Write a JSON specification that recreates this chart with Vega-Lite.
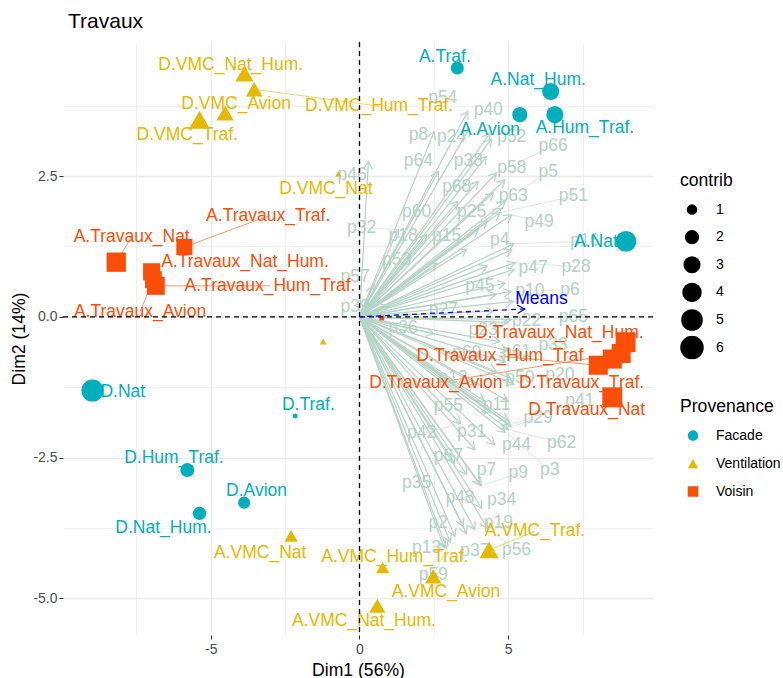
{
  "$schema": "https://vega.github.io/schema/vega-lite/v6.json",
  "width": 590,
  "height": 593,
  "autosize": {"type": "none"},
  "padding": {"left": 63, "top": 42, "right": 130, "bottom": 43},
  "background": "white",
  "title": {"text": "Travaux", "anchor": "start", "frame": "group", "fontSize": 21, "font": "Liberation Sans", "fontWeight": "normal", "color": "black", "offset": 9, "dx": 5},
  "config": {
    "view": {"stroke": null},
    "axis": {"labelFont": "Liberation Sans", "labelFontSize": 14, "labelColor": "#4D4D4D", "titleFont": "Liberation Sans", "titleFontSize": 17.6, "titleFontWeight": "normal", "titleColor": "black", "domain": false, "gridColor": "#EBEBEB", "tickColor": "#333333", "tickSize": 4, "tickWidth": 1},
    "legend": {"titleFont": "Liberation Sans", "titleFontSize": 17.6, "titleFontWeight": "normal", "titleColor": "black", "labelFont": "Liberation Sans", "labelFontSize": 14, "labelColor": "black", "padding": 0}
  },
  "resolve": {"legend": {"color": "independent", "shape": "independent", "size": "independent"}},
  "datasets": {
    "ind": [
      {"name": "A.Traf.", "grp": "Facade", "x": 3.29, "y": 4.42, "contrib": 2.1, "lx": 2.87, "ly": 4.62, "seg": false},
      {"name": "A.Nat_Hum.", "grp": "Facade", "x": 6.43, "y": 4.0, "contrib": 3.6, "lx": 6.01, "ly": 4.21, "seg": false},
      {"name": "A.Avion", "grp": "Facade", "x": 5.39, "y": 3.59, "contrib": 2.8, "lx": 4.39, "ly": 3.32, "seg": false},
      {"name": "A.Hum_Traf.", "grp": "Facade", "x": 6.57, "y": 3.59, "contrib": 3.6, "lx": 7.58, "ly": 3.35, "seg": false},
      {"name": "A.Nat", "grp": "Facade", "x": 8.96, "y": 1.34, "contrib": 5.4, "lx": 7.95, "ly": 1.32, "seg": false},
      {"name": "D.Nat", "grp": "Facade", "x": -8.98, "y": -1.31, "contrib": 6.0, "lx": -7.96, "ly": -1.33, "seg": false},
      {"name": "D.Traf.", "grp": "Facade", "x": -2.16, "y": -1.76, "contrib": 0.3, "lx": -1.72, "ly": -1.56, "seg": false},
      {"name": "D.Hum_Traf.", "grp": "Facade", "x": -5.79, "y": -2.72, "contrib": 2.4, "lx": -6.24, "ly": -2.51, "seg": false},
      {"name": "D.Avion", "grp": "Facade", "x": -3.88, "y": -3.3, "contrib": 1.8, "lx": -3.46, "ly": -3.1, "seg": false},
      {"name": "D.Nat_Hum.", "grp": "Facade", "x": -5.38, "y": -3.49, "contrib": 2.2, "lx": -6.59, "ly": -3.75, "seg": false},
      {"name": "D.VMC_Nat_Hum.", "grp": "Ventilation", "x": -3.87, "y": 4.32, "contrib": 4.1, "lx": -4.33, "ly": 4.48, "seg": false},
      {"name": "D.VMC_Hum_Traf.", "grp": "Ventilation", "x": -3.54, "y": 4.04, "contrib": 3.4, "lx": 0.66, "ly": 3.74, "seg": true},
      {"name": "D.VMC_Avion", "grp": "Ventilation", "x": -4.52, "y": 3.62, "contrib": 3.7, "lx": -4.15, "ly": 3.78, "seg": false},
      {"name": "D.VMC_Traf.", "grp": "Ventilation", "x": -5.38, "y": 3.5, "contrib": 5.3, "lx": -5.79, "ly": 3.23, "seg": false},
      {"name": "D.VMC_Nat", "grp": "Ventilation", "x": -0.71, "y": 2.54, "contrib": 0.45, "lx": -1.13, "ly": 2.27, "seg": false},
      {"name": "", "grp": "Ventilation", "x": -1.22, "y": -0.44, "contrib": 0.6, "lx": null, "ly": null, "seg": false},
      {"name": "A.VMC_Nat", "grp": "Ventilation", "x": -2.3, "y": -3.89, "contrib": 2.2, "lx": -3.34, "ly": -4.2, "seg": false},
      {"name": "A.VMC_Hum_Traf.", "grp": "Ventilation", "x": 0.78, "y": -4.45, "contrib": 2.2, "lx": 1.19, "ly": -4.26, "seg": false},
      {"name": "A.VMC_Nat_Hum.", "grp": "Ventilation", "x": 0.6, "y": -5.13, "contrib": 3.2, "lx": 0.15, "ly": -5.41, "seg": false},
      {"name": "A.VMC_Traf.", "grp": "Ventilation", "x": 4.36, "y": -4.14, "contrib": 4.5, "lx": 5.9, "ly": -3.81, "seg": true},
      {"name": "A.VMC_Avion", "grp": "Ventilation", "x": 2.48, "y": -4.61, "contrib": 3.4, "lx": 2.91, "ly": -4.88, "seg": false},
      {"name": "A.Travaux_Nat", "grp": "Voisin", "x": -8.18, "y": 0.97, "contrib": 4.6, "lx": -7.66, "ly": 1.42, "seg": true},
      {"name": "A.Travaux_Traf.", "grp": "Voisin", "x": -5.89, "y": 1.24, "contrib": 3.2, "lx": -3.07, "ly": 1.79, "seg": true},
      {"name": "A.Travaux_Nat_Hum.", "grp": "Voisin", "x": -6.99, "y": 0.8, "contrib": 3.6, "lx": -3.85, "ly": 0.98, "seg": false},
      {"name": "A.Travaux_Hum_Traf.", "grp": "Voisin", "x": -6.85, "y": 0.55, "contrib": 4.0, "lx": -3.01, "ly": 0.55, "seg": true},
      {"name": "A.Travaux_Avion", "grp": "Voisin", "x": -6.93, "y": 0.66, "contrib": 3.5, "lx": -7.38, "ly": 0.09, "seg": true},
      {"name": "D.Travaux_Nat_Hum.", "grp": "Voisin", "x": 8.95, "y": -0.45, "contrib": 4.9, "lx": 6.72, "ly": -0.28, "seg": false},
      {"name": "D.Travaux_Traf.", "grp": "Voisin", "x": 8.5, "y": -0.75, "contrib": 4.5, "lx": 7.47, "ly": -1.17, "seg": false},
      {"name": "D.Travaux_Hum_Traf", "grp": "Voisin", "x": 8.03, "y": -0.86, "contrib": 4.5, "lx": 4.72, "ly": -0.7, "seg": true},
      {"name": "D.Travaux_Avion", "grp": "Voisin", "x": 8.8, "y": -0.65, "contrib": 4.5, "lx": 2.57, "ly": -1.17, "seg": true},
      {"name": "D.Travaux_Nat", "grp": "Voisin", "x": 8.5, "y": -1.43, "contrib": 4.9, "lx": 7.64, "ly": -1.65, "seg": false},
      {"name": "", "grp": "Voisin", "x": 0.75, "y": -0.02, "contrib": 0.3, "lx": null, "ly": null, "seg": false}
    ],
    "var": [
      {"v": "p46", "x": 0.30, "y": 2.76, "lx": -0.25, "ly": 2.52, "seg": false},
      {"v": "p8", "x": 2.51, "y": 3.29, "lx": 1.98, "ly": 3.23, "seg": false},
      {"v": "p54", "x": 3.64, "y": 3.65, "lx": 2.80, "ly": 3.88, "seg": false},
      {"v": "p24", "x": 3.70, "y": 3.35, "lx": 3.10, "ly": 3.20, "seg": false},
      {"v": "p40", "x": 4.39, "y": 3.26, "lx": 4.33, "ly": 3.68, "seg": false},
      {"v": "p52", "x": 4.44, "y": 3.16, "lx": 5.12, "ly": 3.20, "seg": false},
      {"v": "p66", "x": 4.60, "y": 2.55, "lx": 6.51, "ly": 3.04, "seg": true},
      {"v": "p64", "x": 2.65, "y": 2.58, "lx": 1.98, "ly": 2.76, "seg": false},
      {"v": "p38", "x": 4.27, "y": 2.85, "lx": 3.66, "ly": 2.76, "seg": false},
      {"v": "p58", "x": 4.89, "y": 2.43, "lx": 5.12, "ly": 2.65, "seg": false},
      {"v": "p5", "x": 4.90, "y": 2.05, "lx": 6.35, "ly": 2.58, "seg": true},
      {"v": "p68", "x": 3.99, "y": 2.40, "lx": 3.27, "ly": 2.31, "seg": false},
      {"v": "p63", "x": 4.50, "y": 2.20, "lx": 5.17, "ly": 2.14, "seg": false},
      {"v": "p51", "x": 4.72, "y": 1.85, "lx": 7.19, "ly": 2.14, "seg": true},
      {"v": "p60", "x": 3.30, "y": 2.05, "lx": 1.92, "ly": 1.87, "seg": false},
      {"v": "p25", "x": 4.78, "y": 1.93, "lx": 3.77, "ly": 1.87, "seg": false},
      {"v": "p49", "x": 5.12, "y": 1.81, "lx": 6.04, "ly": 1.69, "seg": true},
      {"v": "p32", "x": 1.30, "y": 1.55, "lx": 0.07, "ly": 1.58, "seg": true},
      {"v": "p18", "x": 2.26, "y": 1.46, "lx": 1.47, "ly": 1.43, "seg": false},
      {"v": "p15", "x": 4.00, "y": 1.55, "lx": 2.93, "ly": 1.43, "seg": false},
      {"v": "p4", "x": 5.12, "y": 1.19, "lx": 4.72, "ly": 1.37, "seg": false},
      {"v": "p16", "x": 5.20, "y": 1.30, "lx": 7.58, "ly": 1.34, "seg": true},
      {"v": "p53", "x": 2.60, "y": 0.95, "lx": 1.25, "ly": 1.01, "seg": false},
      {"v": "p47", "x": 5.20, "y": 0.84, "lx": 5.84, "ly": 0.86, "seg": false},
      {"v": "p28", "x": 5.23, "y": 0.96, "lx": 7.28, "ly": 0.89, "seg": true},
      {"v": "p57", "x": 0.45, "y": 0.55, "lx": -0.15, "ly": 0.70, "seg": false},
      {"v": "p45", "x": 4.90, "y": 0.60, "lx": 4.05, "ly": 0.54, "seg": false},
      {"v": "p10", "x": 5.17, "y": 0.27, "lx": 5.73, "ly": 0.45, "seg": false},
      {"v": "p6", "x": 5.10, "y": 0.45, "lx": 7.08, "ly": 0.48, "seg": true},
      {"v": "p39", "x": 1.00, "y": 0.20, "lx": -0.15, "ly": 0.18, "seg": false},
      {"v": "p27", "x": 4.50, "y": 0.10, "lx": 2.82, "ly": 0.12, "seg": false},
      {"v": "p22", "x": 5.00, "y": -0.10, "lx": 5.62, "ly": -0.08, "seg": false},
      {"v": "p65", "x": 5.10, "y": -0.05, "lx": 7.19, "ly": 0.00, "seg": true},
      {"v": "p36", "x": 2.50, "y": -0.30, "lx": 1.47, "ly": -0.20, "seg": false},
      {"v": "p23", "x": 4.72, "y": -0.44, "lx": 4.16, "ly": -0.23, "seg": false},
      {"v": "p33", "x": 5.00, "y": -0.60, "lx": 6.51, "ly": -0.50, "seg": true},
      {"v": "p69", "x": 4.61, "y": -0.97, "lx": 3.60, "ly": -0.65, "seg": false},
      {"v": "p61", "x": 4.90, "y": -0.80, "lx": 5.28, "ly": -0.62, "seg": false},
      {"v": "p12", "x": 5.00, "y": -1.50, "lx": 3.15, "ly": -1.09, "seg": false},
      {"v": "p50", "x": 5.20, "y": -1.20, "lx": 5.39, "ly": -1.09, "seg": false},
      {"v": "p20", "x": 5.10, "y": -1.10, "lx": 6.74, "ly": -1.03, "seg": true},
      {"v": "p41", "x": 5.06, "y": -1.92, "lx": 7.41, "ly": -1.50, "seg": true},
      {"v": "p55", "x": 4.20, "y": -1.50, "lx": 2.99, "ly": -1.59, "seg": false},
      {"v": "p11", "x": 5.00, "y": -1.85, "lx": 4.61, "ly": -1.56, "seg": false},
      {"v": "p29", "x": 5.10, "y": -1.95, "lx": 6.01, "ly": -1.80, "seg": true},
      {"v": "p44", "x": 4.55, "y": -2.27, "lx": 5.28, "ly": -2.27, "seg": false},
      {"v": "p62", "x": 5.00, "y": -2.00, "lx": 6.80, "ly": -2.24, "seg": true},
      {"v": "p42", "x": 3.40, "y": -1.90, "lx": 2.09, "ly": -2.07, "seg": true},
      {"v": "p31", "x": 3.88, "y": -2.36, "lx": 3.77, "ly": -2.04, "seg": false},
      {"v": "p3", "x": 4.90, "y": -2.05, "lx": 6.40, "ly": -2.72, "seg": true},
      {"v": "p67", "x": 3.60, "y": -2.80, "lx": 2.99, "ly": -2.48, "seg": false},
      {"v": "p7", "x": 4.05, "y": -2.98, "lx": 4.27, "ly": -2.72, "seg": false},
      {"v": "p9", "x": 4.10, "y": -3.00, "lx": 5.34, "ly": -2.78, "seg": true},
      {"v": "p35", "x": 2.85, "y": -4.10, "lx": 1.92, "ly": -2.95, "seg": false},
      {"v": "p34", "x": 4.11, "y": -3.40, "lx": 4.78, "ly": -3.25, "seg": false},
      {"v": "p48", "x": 3.49, "y": -3.72, "lx": 3.38, "ly": -3.22, "seg": false},
      {"v": "p2", "x": 3.21, "y": -3.90, "lx": 2.65, "ly": -3.66, "seg": false},
      {"v": "p19", "x": 3.88, "y": -3.78, "lx": 4.67, "ly": -3.66, "seg": false},
      {"v": "p13", "x": 2.93, "y": -4.11, "lx": 2.26, "ly": -4.11, "seg": false},
      {"v": "p37", "x": 3.60, "y": -3.85, "lx": 3.88, "ly": -4.15, "seg": false},
      {"v": "p56", "x": 4.30, "y": -3.75, "lx": 5.28, "ly": -4.14, "seg": true},
      {"v": "p59", "x": 3.05, "y": -4.00, "lx": 2.48, "ly": -4.58, "seg": true},
      {"v": "p1", "x": 3.60, "y": 1.20, "lx": null, "ly": null, "seg": false},
      {"v": "p14", "x": 4.30, "y": 0.90, "lx": null, "ly": null, "seg": false},
      {"v": "p17", "x": 4.60, "y": 0.40, "lx": null, "ly": null, "seg": false},
      {"v": "p21", "x": 3.90, "y": -1.20, "lx": null, "ly": null, "seg": false},
      {"v": "p26", "x": 4.30, "y": 1.70, "lx": null, "ly": null, "seg": false},
      {"v": "p43", "x": 4.40, "y": -1.70, "lx": null, "ly": null, "seg": false},
      {"v": "p30", "x": 3.20, "y": -2.60, "lx": null, "ly": null, "seg": false}
    ],
    "means": [
      {"v": "Means", "x": 5.56, "y": 0.14, "lx": 6.12, "ly": 0.31}
    ]
  },
  "layer": [
    {
      "data": {"name": "ind"},
      "transform": [{"filter": "datum.seg"}],
      "mark": {"type": "rule", "strokeWidth": 0.6},
      "encoding": {
        "x": {"field": "lx", "type": "quantitative", "scale": {"domain": [-9.97, 9.87], "nice": false, "zero": false},
          "axis": {"title": "Dim1 (56%)", "values": [-7.5, -5, -2.5, 0, 2.5, 5, 7.5],
            "labelExpr": "datum.value % 5 == 0 ? (datum.value < 0 ? '-' + format(-datum.value, 'd') : format(datum.value, 'd')) : ''",
            "gridWidth": {"condition": {"test": "datum.value % 5 == 0", "value": 1.4}, "value": 0.7},
            "tickOpacity": {"condition": {"test": "datum.value % 5 == 0", "value": 1}, "value": 0},
            "labelPadding": 3, "titlePadding": 5}},
        "y": {"field": "ly", "type": "quantitative", "scale": {"domain": [-5.65, 4.88], "nice": false, "zero": false},
          "axis": {"title": "Dim2 (14%)", "values": [-5, -3.75, -2.5, -1.25, 0, 1.25, 2.5, 3.75],
            "labelExpr": "abs(datum.value % 2.5) < 0.001 ? (datum.value < 0 ? '-' + format(-datum.value, '.1f') : format(datum.value, '.1f')) : ''",
            "gridWidth": {"condition": {"test": "abs(datum.value % 2.5) < 0.001", "value": 1.4}, "value": 0.7},
            "tickOpacity": {"condition": {"test": "abs(datum.value % 2.5) < 0.001", "value": 1}, "value": 0},
            "labelPadding": 2, "titlePadding": 4}},
        "x2": {"field": "x"},
        "y2": {"field": "y"},
        "color": {"field": "grp", "type": "nominal", "scale": {"domain": ["Facade", "Ventilation", "Voisin"], "range": ["#00AFBB", "#E7B800", "#FC4E07"]}, "legend": null}
      }
    },
    {
      "data": {"name": "var"},
      "mark": {"type": "rule", "color": "#B5D4C5", "strokeWidth": 1.2},
      "encoding": {
        "x": {"field": "x", "type": "quantitative"},
        "y": {"field": "y", "type": "quantitative"},
        "x2": {"datum": 0},
        "y2": {"datum": 0}
      }
    },
    {
      "data": {"name": "var"},
      "transform": [{"calculate": "atan2(29.74 * datum.x, 56.3 * datum.y) * 180 / PI", "as": "ang"}],
      "mark": {"type": "point", "shape": "M-0.5,0.866L0,0L0.5,0.866", "filled": false, "color": "#B5D4C5", "strokeWidth": 1.2, "size": 300, "opacity": 1},
      "encoding": {
        "x": {"field": "x", "type": "quantitative"},
        "y": {"field": "y", "type": "quantitative"},
        "angle": {"field": "ang", "type": "quantitative", "scale": null}
      }
    },
    {
      "data": {"name": "var"},
      "transform": [{"filter": "datum.seg"}],
      "mark": {"type": "rule", "color": "#C2DCCF", "strokeWidth": 0.6},
      "encoding": {
        "x": {"field": "lx", "type": "quantitative"},
        "y": {"field": "ly", "type": "quantitative"},
        "x2": {"field": "x"},
        "y2": {"field": "y"}
      }
    },
    {
      "data": {"name": "var"},
      "mark": {"type": "text", "font": "Liberation Sans", "fontSize": 17.5, "color": "#B3D2C3", "align": "center", "baseline": "middle"},
      "encoding": {
        "x": {"field": "lx", "type": "quantitative"},
        "y": {"field": "ly", "type": "quantitative"},
        "text": {"field": "v"}
      }
    },
    {
      "data": {"name": "ind"},
      "mark": {"type": "text", "font": "Liberation Sans", "fontSize": 17.5, "align": "center", "baseline": "middle"},
      "encoding": {
        "x": {"field": "lx", "type": "quantitative"},
        "y": {"field": "ly", "type": "quantitative"},
        "text": {"field": "name"},
        "color": {"field": "grp", "type": "nominal", "legend": null}
      }
    },
    {
      "data": {"name": "ind"},
      "mark": {"type": "point", "filled": true, "opacity": 1},
      "encoding": {
        "x": {"field": "x", "type": "quantitative"},
        "y": {"field": "y", "type": "quantitative"},
        "size": {"field": "contrib", "type": "quantitative", "scale": {"domain": [0, 6], "range": [0, 486]},
          "legend": {"title": "contrib", "orient": "none", "legendX": 617, "legendY": 130, "values": [1, 2, 3, 4, 5, 6], "symbolFillColor": "black", "symbolStrokeColor": "black", "symbolType": "circle", "clipHeight": 24, "rowPadding": 3.6, "titlePadding": 8, "labelOffset": 12}},
        "color": {"field": "grp", "type": "nominal", "title": "Provenance",
          "legend": {"title": "Provenance", "orient": "none", "legendX": 617, "legendY": 356, "symbolSize": 110, "clipHeight": 24, "rowPadding": 4, "symbolOffset": 6, "titlePadding": 8, "labelOffset": 16}},
        "shape": {"field": "grp", "type": "nominal", "title": "Provenance", "scale": {"domain": ["Facade", "Ventilation", "Voisin"], "range": ["circle", "triangle-up", "square"]},
          "legend": {"title": "Provenance", "orient": "none", "legendX": 617, "legendY": 356, "symbolSize": 110, "clipHeight": 24, "rowPadding": 4, "symbolOffset": 6, "titlePadding": 8, "labelOffset": 16}}
      }
    },
    {
      "data": {"values": [{}]},
      "mark": {"type": "rule", "color": "black", "strokeDash": [5, 4], "strokeWidth": 1.3},
      "encoding": {"x": {"datum": 0, "type": "quantitative"}}
    },
    {
      "data": {"values": [{}]},
      "mark": {"type": "rule", "color": "black", "strokeDash": [5, 4], "strokeWidth": 1.3},
      "encoding": {"y": {"datum": 0, "type": "quantitative"}}
    },
    {
      "data": {"name": "means"},
      "mark": {"type": "rule", "color": "blue", "strokeDash": [5, 4], "strokeWidth": 1.3},
      "encoding": {
        "x": {"field": "x", "type": "quantitative"},
        "y": {"field": "y", "type": "quantitative"},
        "x2": {"datum": 0},
        "y2": {"datum": 0}
      }
    },
    {
      "data": {"name": "means"},
      "transform": [{"calculate": "atan2(29.74 * datum.x, 56.3 * datum.y) * 180 / PI", "as": "ang"}],
      "mark": {"type": "point", "shape": "M-0.5,0.866L0,0L0.5,0.866", "filled": false, "color": "blue", "strokeWidth": 1.2, "size": 300, "opacity": 1},
      "encoding": {
        "x": {"field": "x", "type": "quantitative"},
        "y": {"field": "y", "type": "quantitative"},
        "angle": {"field": "ang", "type": "quantitative", "scale": null}
      }
    },
    {
      "data": {"name": "means"},
      "mark": {"type": "text", "font": "Liberation Sans", "fontSize": 17.5, "color": "blue", "align": "center", "baseline": "middle"},
      "encoding": {
        "x": {"field": "lx", "type": "quantitative"},
        "y": {"field": "ly", "type": "quantitative"},
        "text": {"field": "v"}
      }
    }
  ]
}
